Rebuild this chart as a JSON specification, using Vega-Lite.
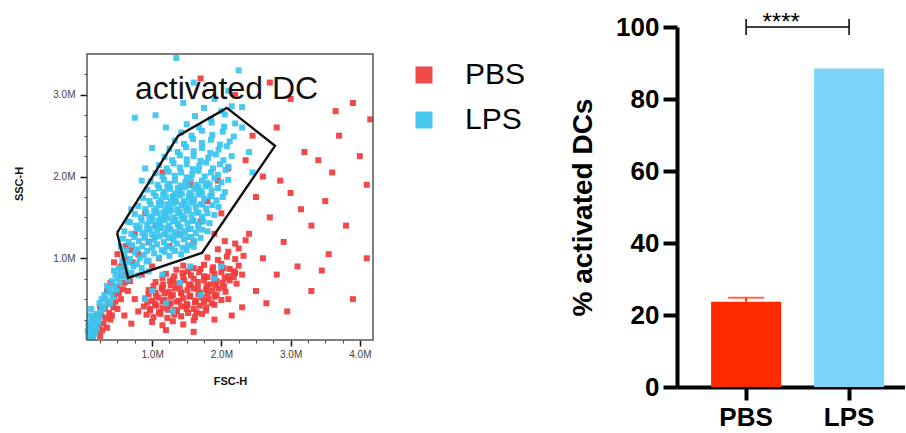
{
"$schema": "https://vega.github.io/schema/vega-lite/v6.json",
"background": "white",
"padding": {"left": 13, "top": 10, "right": 0, "bottom": 0},
"bounds": "flush",
"spacing": 304,
"resolve": {"scale": {"color": "independent"}, "legend": {"color": "independent"}},
"config": {"view": {"stroke": null}, "font": "Liberation Sans", "axis": {"grid": false}},
"datasets": {
"lps": [
{"x":0.08,"y":0.04},{"x":0.1,"y":0.09},{"x":0.12,"y":0.05},{"x":0.09,"y":0.15},{"x":0.14,"y":0.12},{"x":0.11,"y":0.22},{"x":0.16,"y":0.18},{"x":0.13,"y":0.28},{"x":0.18,"y":0.08},{"x":0.07,"y":0.11},{"x":0.15,"y":0.03},{"x":0.2,"y":0.14},{"x":0.1,"y":0.3},{"x":0.17,"y":0.25},{"x":0.22,"y":0.21},{"x":0.08,"y":0.19},{"x":0.19,"y":0.32},{"x":0.12,"y":0.38},{"x":0.24,"y":0.28},{"x":0.26,"y":0.35},{"x":0.28,"y":0.42},{"x":0.3,"y":0.38},{"x":0.33,"y":0.5},{"x":0.36,"y":0.47},{"x":0.31,"y":0.55},{"x":0.4,"y":0.58},{"x":0.38,"y":0.63},{"x":0.43,"y":0.52},{"x":0.45,"y":0.66},{"x":0.42,"y":0.72},{"x":0.48,"y":0.61},{"x":0.5,"y":0.75},{"x":0.47,"y":0.8},{"x":0.53,"y":0.7},{"x":0.55,"y":0.84},{"x":0.52,"y":0.88},{"x":0.58,"y":0.78},{"x":0.6,"y":0.92},{"x":0.35,"y":0.66},{"x":0.27,"y":0.5},{"x":0.62,"y":0.86},{"x":0.66,"y":0.95},{"x":0.7,"y":0.82},{"x":0.73,"y":0.9},{"x":0.24,"y":0.45},{"x":0.39,"y":0.44},{"x":0.57,"y":0.97},{"x":0.45,"y":0.85},{"x":0.65,"y":0.74},{"x":0.78,"y":0.93},{"x":0.85,"y":0.88},{"x":0.92,"y":0.96},{"x":0.8,"y":0.79},{"x":0.95,"y":0.84},
{"x":1.0,"y":0.6},{"x":1.2,"y":0.45},{"x":1.4,"y":0.7},{"x":1.7,"y":0.55},{"x":1.9,"y":0.75},{"x":1.15,"y":0.8},{"x":1.55,"y":0.9},{"x":2.0,"y":0.9},{"x":1.3,"y":0.35},{"x":0.9,"y":0.5},
{"x":0.6,"y":1.05},{"x":0.68,"y":0.99},{"x":0.75,"y":1.07},{"x":0.82,"y":1.0},{"x":0.88,"y":1.04},{"x":0.95,"y":0.97},{"x":1.03,"y":1.06},{"x":1.1,"y":1.01},{"x":1.18,"y":1.08},{"x":1.25,"y":1.03},{"x":1.33,"y":1.09},{"x":1.42,"y":1.05},{"x":1.5,"y":1.1},
{"x":0.55,"y":1.14},{"x":0.63,"y":1.1},{"x":0.71,"y":1.16},{"x":0.79,"y":1.11},{"x":0.86,"y":1.15},{"x":0.93,"y":1.09},{"x":1.0,"y":1.13},{"x":1.07,"y":1.17},{"x":1.14,"y":1.1},{"x":1.21,"y":1.15},{"x":1.29,"y":1.12},{"x":1.36,"y":1.18},{"x":1.44,"y":1.13},{"x":1.52,"y":1.16},{"x":1.6,"y":1.14},
{"x":0.58,"y":1.24},{"x":0.66,"y":1.2},{"x":0.74,"y":1.26},{"x":0.81,"y":1.21},{"x":0.89,"y":1.25},{"x":0.96,"y":1.19},{"x":1.03,"y":1.23},{"x":1.1,"y":1.27},{"x":1.17,"y":1.2},{"x":1.24,"y":1.25},{"x":1.31,"y":1.22},{"x":1.38,"y":1.28},{"x":1.46,"y":1.23},{"x":1.53,"y":1.26},{"x":1.61,"y":1.21},{"x":1.7,"y":1.25},
{"x":0.9,"y":1.28},{"x":1.04,"y":1.26},{"x":1.17,"y":1.29},{"x":1.3,"y":1.27},{"x":1.44,"y":1.3},{"x":1.57,"y":1.26},
{"x":0.6,"y":1.33},{"x":0.7,"y":1.3},{"x":0.78,"y":1.36},{"x":0.86,"y":1.31},{"x":0.93,"y":1.35},{"x":1.0,"y":1.29},{"x":1.07,"y":1.34},{"x":1.14,"y":1.37},{"x":1.2,"y":1.3},{"x":1.27,"y":1.35},{"x":1.34,"y":1.32},{"x":1.41,"y":1.38},{"x":1.48,"y":1.33},{"x":1.56,"y":1.36},{"x":1.63,"y":1.31},{"x":1.72,"y":1.35},{"x":1.8,"y":1.33},
{"x":0.82,"y":1.38},{"x":0.97,"y":1.36},{"x":1.1,"y":1.39},{"x":1.23,"y":1.37},{"x":1.38,"y":1.4},{"x":1.52,"y":1.36},{"x":1.67,"y":1.38},
{"x":0.68,"y":1.44},{"x":0.77,"y":1.4},{"x":0.85,"y":1.46},{"x":0.93,"y":1.41},{"x":1.0,"y":1.45},{"x":1.06,"y":1.39},{"x":1.12,"y":1.43},{"x":1.18,"y":1.47},{"x":1.24,"y":1.4},{"x":1.3,"y":1.45},{"x":1.37,"y":1.42},{"x":1.44,"y":1.48},{"x":1.51,"y":1.43},{"x":1.58,"y":1.46},{"x":1.66,"y":1.41},{"x":1.74,"y":1.45},{"x":1.83,"y":1.43},
{"x":0.96,"y":1.48},{"x":1.09,"y":1.46},{"x":1.22,"y":1.49},{"x":1.34,"y":1.47},{"x":1.47,"y":1.5},{"x":1.6,"y":1.46},{"x":1.72,"y":1.48},
{"x":0.75,"y":1.54},{"x":0.84,"y":1.5},{"x":0.92,"y":1.56},{"x":1.0,"y":1.51},{"x":1.07,"y":1.55},{"x":1.13,"y":1.49},{"x":1.19,"y":1.53},{"x":1.25,"y":1.57},{"x":1.31,"y":1.5},{"x":1.37,"y":1.55},{"x":1.43,"y":1.52},{"x":1.5,"y":1.58},{"x":1.57,"y":1.53},{"x":1.64,"y":1.56},{"x":1.72,"y":1.51},{"x":1.8,"y":1.55},{"x":1.9,"y":1.53},
{"x":1.03,"y":1.58},{"x":1.16,"y":1.56},{"x":1.28,"y":1.59},{"x":1.4,"y":1.57},{"x":1.53,"y":1.6},{"x":1.67,"y":1.56},
{"x":0.8,"y":1.64},{"x":0.9,"y":1.6},{"x":0.98,"y":1.66},{"x":1.06,"y":1.61},{"x":1.13,"y":1.65},{"x":1.19,"y":1.59},{"x":1.25,"y":1.63},{"x":1.31,"y":1.67},{"x":1.37,"y":1.6},{"x":1.43,"y":1.65},{"x":1.49,"y":1.62},{"x":1.56,"y":1.68},{"x":1.63,"y":1.63},{"x":1.7,"y":1.66},{"x":1.78,"y":1.61},{"x":1.87,"y":1.65},{"x":1.96,"y":1.63},
{"x":1.1,"y":1.68},{"x":1.22,"y":1.66},{"x":1.35,"y":1.69},{"x":1.47,"y":1.67},{"x":1.6,"y":1.7},{"x":1.73,"y":1.66},
{"x":0.87,"y":1.74},{"x":0.96,"y":1.7},{"x":1.05,"y":1.76},{"x":1.13,"y":1.71},{"x":1.2,"y":1.75},{"x":1.27,"y":1.69},{"x":1.33,"y":1.73},{"x":1.4,"y":1.77},{"x":1.46,"y":1.7},{"x":1.53,"y":1.75},{"x":1.6,"y":1.72},{"x":1.67,"y":1.78},{"x":1.75,"y":1.73},{"x":1.84,"y":1.76},{"x":1.93,"y":1.71},{"x":2.02,"y":1.75},
{"x":1.16,"y":1.78},{"x":1.3,"y":1.76},{"x":1.43,"y":1.79},{"x":1.57,"y":1.77},{"x":1.72,"y":1.8},{"x":1.86,"y":1.76},
{"x":0.93,"y":1.84},{"x":1.02,"y":1.8},{"x":1.1,"y":1.86},{"x":1.18,"y":1.81},{"x":1.26,"y":1.85},{"x":1.33,"y":1.79},{"x":1.4,"y":1.83},{"x":1.47,"y":1.87},{"x":1.54,"y":1.8},{"x":1.61,"y":1.85},{"x":1.69,"y":1.82},{"x":1.77,"y":1.88},{"x":1.86,"y":1.83},{"x":1.95,"y":1.86},{"x":2.05,"y":1.81},
{"x":1.22,"y":1.88},{"x":1.37,"y":1.86},{"x":1.52,"y":1.89},{"x":1.67,"y":1.87},{"x":1.83,"y":1.9},
{"x":0.98,"y":1.94},{"x":1.08,"y":1.9},{"x":1.17,"y":1.96},{"x":1.25,"y":1.91},{"x":1.33,"y":1.95},{"x":1.41,"y":1.89},{"x":1.48,"y":1.93},{"x":1.56,"y":1.97},{"x":1.64,"y":1.9},{"x":1.72,"y":1.95},{"x":1.8,"y":1.92},{"x":1.9,"y":1.98},{"x":2.0,"y":1.93},{"x":2.1,"y":1.96},
{"x":1.05,"y":2.04},{"x":1.15,"y":2.0},{"x":1.24,"y":2.06},{"x":1.33,"y":2.01},{"x":1.42,"y":2.05},{"x":1.5,"y":1.99},{"x":1.58,"y":2.03},{"x":1.67,"y":2.07},{"x":1.76,"y":2.0},{"x":1.85,"y":2.05},{"x":1.95,"y":2.02},{"x":2.06,"y":2.08},
{"x":1.1,"y":2.14},{"x":1.21,"y":2.1},{"x":1.31,"y":2.16},{"x":1.4,"y":2.11},{"x":1.5,"y":2.15},{"x":1.59,"y":2.09},{"x":1.68,"y":2.13},{"x":1.78,"y":2.17},{"x":1.88,"y":2.1},{"x":1.98,"y":2.15},{"x":2.1,"y":2.12},
{"x":1.18,"y":2.24},{"x":1.29,"y":2.2},{"x":1.4,"y":2.26},{"x":1.5,"y":2.21},{"x":1.6,"y":2.25},{"x":1.7,"y":2.19},{"x":1.81,"y":2.23},{"x":1.92,"y":2.27},{"x":2.03,"y":2.2},{"x":2.15,"y":2.25},
{"x":1.25,"y":2.34},{"x":1.37,"y":2.3},{"x":1.49,"y":2.36},{"x":1.6,"y":2.31},{"x":1.72,"y":2.35},{"x":1.84,"y":2.29},{"x":1.96,"y":2.33},{"x":2.08,"y":2.37},
{"x":1.33,"y":2.44},{"x":1.46,"y":2.4},{"x":1.59,"y":2.46},{"x":1.72,"y":2.41},{"x":1.85,"y":2.45},{"x":1.98,"y":2.39},{"x":2.12,"y":2.43},
{"x":1.42,"y":2.54},{"x":1.57,"y":2.5},{"x":1.72,"y":2.56},{"x":1.87,"y":2.51},{"x":2.02,"y":2.55},{"x":2.18,"y":2.49},
{"x":1.5,"y":2.64},{"x":1.68,"y":2.6},{"x":1.86,"y":2.66},{"x":2.04,"y":2.61},{"x":2.2,"y":2.65},
{"x":1.62,"y":2.74},{"x":1.85,"y":2.7},{"x":2.05,"y":2.76},
{"x":1.75,"y":2.84},{"x":2.0,"y":2.8},{"x":2.15,"y":2.86},
{"x":1.9,"y":2.95},{"x":2.1,"y":3.05},{"x":1.6,"y":3.15},{"x":2.25,"y":3.3},{"x":1.45,"y":2.9},{"x":2.3,"y":2.85},{"x":1.2,"y":2.6},{"x":1.0,"y":2.35},{"x":0.9,"y":2.1},{"x":2.3,"y":2.6},{"x":2.4,"y":2.3},{"x":1.35,"y":3.45},{"x":1.05,"y":2.75},{"x":0.85,"y":1.95},{"x":2.45,"y":2.05},{"x":0.7,"y":1.6},{"x":0.65,"y":1.45},{"x":0.75,"y":2.72}
],
"pbs": [
{"x":0.15,"y":0.06},{"x":0.2,"y":0.1},{"x":0.25,"y":0.05},{"x":0.22,"y":0.17},{"x":0.28,"y":0.12},{"x":0.3,"y":0.2},{"x":0.18,"y":0.24},{"x":0.33,"y":0.27},{"x":0.27,"y":0.3},{"x":0.35,"y":0.15},{"x":0.38,"y":0.33},{"x":0.4,"y":0.25},{"x":0.32,"y":0.38},{"x":0.44,"y":0.4},{"x":0.42,"y":0.3},{"x":0.37,"y":0.45},{"x":0.47,"y":0.47},{"x":0.5,"y":0.38},{"x":0.45,"y":0.55},{"x":0.52,"y":0.57},{"x":0.55,"y":0.5},{"x":0.5,"y":0.65},{"x":0.58,"y":0.62},{"x":0.6,"y":0.7},{"x":0.56,"y":0.78},{"x":0.63,"y":0.8},{"x":0.65,"y":0.6},{"x":0.68,"y":0.72},{"x":0.55,"y":0.9},{"x":0.6,"y":1.0},{"x":0.5,"y":1.05},{"x":0.7,"y":1.1},{"x":0.72,"y":0.95},{"x":0.62,"y":1.15},{"x":0.45,"y":0.95},{"x":0.4,"y":0.7},{"x":0.35,"y":0.6},{"x":0.25,"y":0.4},{"x":0.12,"y":0.14},{"x":0.2,"y":0.3},
{"x":0.8,"y":1.05},{"x":0.95,"y":1.2},{"x":1.1,"y":1.0},{"x":0.75,"y":1.3},{"x":1.25,"y":1.15},{"x":1.05,"y":1.4},{"x":0.9,"y":1.55},{"x":1.4,"y":1.3},{"x":1.6,"y":1.2},{"x":1.7,"y":1.45},{"x":1.3,"y":1.75},{"x":1.55,"y":1.9},{"x":1.8,"y":1.7},{"x":1.95,"y":1.95},{"x":2.1,"y":2.1},{"x":1.15,"y":2.05},{"x":0.85,"y":0.8},{"x":1.0,"y":0.9},{"x":1.9,"y":1.3},{"x":2.0,"y":1.55},
{"x":1.0,"y":0.22},{"x":1.15,"y":0.18},{"x":1.3,"y":0.23},{"x":1.45,"y":0.19},{"x":1.6,"y":0.24},
{"x":0.92,"y":0.31},{"x":1.02,"y":0.28},{"x":1.12,"y":0.32},{"x":1.22,"y":0.27},{"x":1.32,"y":0.31},{"x":1.42,"y":0.29},{"x":1.52,"y":0.33},{"x":1.62,"y":0.28},{"x":1.72,"y":0.32},
{"x":0.97,"y":0.36},{"x":1.1,"y":0.34},{"x":1.23,"y":0.37},{"x":1.36,"y":0.35},{"x":1.5,"y":0.38},{"x":1.64,"y":0.34},{"x":1.78,"y":0.36},
{"x":0.88,"y":0.41},{"x":0.97,"y":0.38},{"x":1.06,"y":0.42},{"x":1.15,"y":0.39},{"x":1.24,"y":0.43},{"x":1.33,"y":0.37},{"x":1.42,"y":0.41},{"x":1.51,"y":0.43},{"x":1.6,"y":0.38},{"x":1.69,"y":0.42},{"x":1.78,"y":0.4},{"x":1.9,"y":0.43},
{"x":0.93,"y":0.46},{"x":1.04,"y":0.44},{"x":1.15,"y":0.47},{"x":1.27,"y":0.45},{"x":1.39,"y":0.48},{"x":1.5,"y":0.44},{"x":1.62,"y":0.46},{"x":1.75,"y":0.47},{"x":1.86,"y":0.45},
{"x":0.9,"y":0.51},{"x":1.0,"y":0.48},{"x":1.09,"y":0.52},{"x":1.18,"y":0.49},{"x":1.27,"y":0.53},{"x":1.36,"y":0.47},{"x":1.45,"y":0.51},{"x":1.54,"y":0.53},{"x":1.63,"y":0.48},{"x":1.72,"y":0.52},{"x":1.81,"y":0.5},{"x":1.9,"y":0.53},{"x":2.0,"y":0.49},
{"x":0.95,"y":0.56},{"x":1.06,"y":0.54},{"x":1.18,"y":0.57},{"x":1.3,"y":0.55},{"x":1.42,"y":0.58},{"x":1.55,"y":0.54},{"x":1.67,"y":0.56},{"x":1.8,"y":0.57},{"x":1.93,"y":0.55},
{"x":0.95,"y":0.61},{"x":1.05,"y":0.58},{"x":1.15,"y":0.62},{"x":1.24,"y":0.59},{"x":1.33,"y":0.63},{"x":1.42,"y":0.57},{"x":1.51,"y":0.61},{"x":1.6,"y":0.63},{"x":1.69,"y":0.58},{"x":1.78,"y":0.62},{"x":1.87,"y":0.6},{"x":1.96,"y":0.63},{"x":2.06,"y":0.59},
{"x":1.02,"y":0.66},{"x":1.14,"y":0.64},{"x":1.27,"y":0.67},{"x":1.4,"y":0.65},{"x":1.53,"y":0.68},{"x":1.66,"y":0.64},{"x":1.79,"y":0.66},{"x":1.92,"y":0.67},{"x":2.04,"y":0.65},
{"x":1.05,"y":0.71},{"x":1.16,"y":0.68},{"x":1.26,"y":0.72},{"x":1.36,"y":0.69},{"x":1.46,"y":0.73},{"x":1.56,"y":0.67},{"x":1.66,"y":0.71},{"x":1.75,"y":0.73},{"x":1.84,"y":0.68},{"x":1.93,"y":0.72},{"x":2.02,"y":0.7},{"x":2.12,"y":0.73},{"x":2.22,"y":0.69},
{"x":1.15,"y":0.76},{"x":1.3,"y":0.74},{"x":1.45,"y":0.77},{"x":1.6,"y":0.75},{"x":1.75,"y":0.78},{"x":1.9,"y":0.74},{"x":2.05,"y":0.76},{"x":2.18,"y":0.77},
{"x":1.2,"y":0.81},{"x":1.32,"y":0.78},{"x":1.44,"y":0.82},{"x":1.56,"y":0.79},{"x":1.68,"y":0.83},{"x":1.8,"y":0.77},{"x":1.9,"y":0.81},{"x":2.0,"y":0.83},{"x":2.1,"y":0.78},{"x":2.2,"y":0.82},{"x":2.3,"y":0.8},
{"x":1.35,"y":0.86},{"x":1.52,"y":0.84},{"x":1.7,"y":0.87},{"x":1.87,"y":0.85},{"x":2.03,"y":0.88},{"x":2.18,"y":0.84},
{"x":1.45,"y":0.91},{"x":1.6,"y":0.88},{"x":1.75,"y":0.92},{"x":1.88,"y":0.89},{"x":2.0,"y":0.93},{"x":2.12,"y":0.87},{"x":2.25,"y":0.91},
{"x":1.8,"y":1.01},{"x":1.95,"y":0.98},{"x":2.08,"y":1.02},{"x":2.2,"y":0.99},{"x":2.32,"y":1.03},
{"x":1.95,"y":1.11},{"x":2.1,"y":1.08},{"x":2.25,"y":1.12},
{"x":2.05,"y":1.21},{"x":2.2,"y":1.18},{"x":2.35,"y":1.22},
{"x":2.4,"y":1.3},{"x":2.6,"y":1.0},{"x":2.8,"y":0.8},{"x":2.5,"y":0.6},{"x":2.7,"y":1.5},{"x":2.9,"y":1.2},{"x":3.1,"y":0.9},{"x":3.3,"y":1.4},{"x":3.0,"y":1.8},{"x":2.6,"y":2.0},{"x":3.5,"y":1.7},{"x":3.8,"y":1.4},{"x":3.4,"y":2.2},{"x":3.7,"y":2.5},{"x":3.9,"y":2.9},{"x":2.45,"y":2.5},{"x":2.8,"y":2.6},{"x":3.2,"y":2.3},{"x":3.6,"y":2.05},{"x":4.1,"y":1.9},{"x":4.15,"y":2.7},{"x":3.9,"y":0.5},{"x":3.3,"y":0.6},{"x":2.95,"y":0.35},{"x":2.3,"y":0.4},{"x":2.5,"y":1.75},{"x":3.0,"y":2.95},{"x":2.7,"y":3.15},{"x":4.0,"y":2.25},{"x":3.55,"y":1.05},{"x":2.2,"y":3.0},{"x":1.7,"y":3.2},{"x":3.15,"y":1.6},{"x":2.85,"y":1.95},{"x":3.65,"y":2.8},{"x":2.35,"y":2.2},{"x":4.1,"y":1.0},{"x":3.45,"y":0.85},{"x":2.65,"y":0.45},{"x":2.15,"y":0.3},{"x":0.7,"y":0.2},{"x":0.8,"y":0.35},{"x":0.6,"y":0.3},{"x":0.75,"y":0.5},{"x":1.2,"y":0.12},{"x":1.6,"y":0.1},{"x":1.9,"y":0.25},{"x":2.1,"y":0.5}
],
"gate": [
{"i":0,"x":0.495,"y":1.311},{"i":1,"x":0.654,"y":0.76},{"i":2,"x":1.72,"y":1.066},{"i":3,"x":2.775,"y":2.376},{"i":4,"x":2.08,"y":2.84},{"i":5,"x":1.375,"y":2.498},{"i":6,"x":0.495,"y":1.311}
],
"frame": [{"x0":0.06,"x1":4.19,"y0":0,"y1":3.5}],
"gatelabel": [{"x":2.075,"y":2.95,"label":"activated DC"}],
"bars": [
{"group":"PBS","value":23.7,"upper":24.8},{"group":"LPS","value":88.5,"upper":null}
],
"bracket": [{"a":"PBS","b":"LPS","y":100,"ty":99.3,"label":"****"}],
"ends": [{"g":"PBS","lo":97.8,"hi":102.2},{"g":"LPS","lo":97.8,"hi":102.2}]
},
"hconcat": [
{
"width": 286, "height": 313,
"resolve": {"axis": {"x": "independent", "y": "independent"}},
"layer": [
{"data": {"name": "pbs"},
 "mark": {"type": "square", "size": 36, "opacity": 0.92},
 "encoding": {
  "x": {"field": "x", "type": "quantitative", "scale": {"domain": [0.06, 4.19], "nice": false, "zero": false},
   "axis": {"orient": "bottom", "values": [1, 2, 3, 4], "labelExpr": "format(datum.value,'.1f') + 'M'", "domain": false, "tickSize": 6, "tickWidth": 1.5, "tickColor": "#111", "labelFontSize": 10, "labelColor": "#444", "labelPadding": 3, "title": "FSC-H", "titleFontSize": 11, "titleFontWeight": "bold", "titleColor": "#111", "titlePadding": 16}},
  "y": {"field": "y", "type": "quantitative", "scale": {"domain": [0, 3.83], "nice": false, "zero": false},
   "axis": {"orient": "left", "values": [1, 2, 3], "labelExpr": "format(datum.value,'.1f') + 'M'", "domain": false, "tickSize": 7, "tickWidth": 1.5, "tickColor": "#111", "labelFontSize": 10, "labelColor": "#444", "labelPadding": 5, "title": "SSC-H", "titleFontSize": 11, "titleFontWeight": "bold", "titleColor": "#111", "titlePadding": 28}},
  "color": {"datum": "PBS", "type": "nominal", "scale": {"domain": ["PBS", "LPS"], "range": ["#ef3b3b", "#3bc4ef"]},
   "legend": {"orient": "none", "legendX": 322, "legendY": 33, "title": null, "symbolType": "square", "symbolSize": 289, "symbolStrokeWidth": 0, "symbolOpacity": 1, "labelFontSize": 30, "labelColor": "#000", "labelOffset": 26, "rowPadding": 15, "padding": 0}}
 }},
{"data": {"name": "lps"},
 "mark": {"type": "square", "size": 36, "opacity": 0.92},
 "encoding": {
  "x": {"field": "x", "type": "quantitative",
   "axis": {"orient": "bottom", "values": [0.25, 0.5, 0.75, 1.25, 1.5, 1.75, 2.25, 2.5, 2.75, 3.25, 3.5, 3.75], "labels": false, "domain": false, "tickSize": 3, "tickWidth": 1, "tickColor": "#444", "title": null}},
  "y": {"field": "y", "type": "quantitative",
   "axis": {"orient": "left", "values": [0.25, 0.5, 0.75, 1.25, 1.5, 1.75, 2.25, 2.5, 2.75, 3.25], "labels": false, "domain": false, "tickSize": 3, "tickWidth": 1, "tickColor": "#444", "title": null}},
  "color": {"datum": "LPS", "type": "nominal"}
 }},
{"data": {"name": "frame"},
 "mark": {"type": "rect", "filled": false, "stroke": "#555", "strokeWidth": 1.5},
 "encoding": {
  "x": {"field": "x0", "type": "quantitative", "axis": null},
  "x2": {"field": "x1"},
  "y": {"field": "y0", "type": "quantitative", "axis": null},
  "y2": {"field": "y1"}
 }},
{"data": {"name": "gate"},
 "mark": {"type": "line", "color": "#111", "strokeWidth": 2.4, "strokeJoin": "miter"},
 "encoding": {
  "x": {"field": "x", "type": "quantitative", "axis": null},
  "y": {"field": "y", "type": "quantitative", "axis": null},
  "order": {"field": "i", "type": "quantitative"}
 }},
{"data": {"name": "gatelabel"},
 "mark": {"type": "text", "fontSize": 32, "align": "center", "baseline": "alphabetic", "color": "#111"},
 "encoding": {
  "x": {"field": "x", "type": "quantitative", "axis": null},
  "y": {"field": "y", "type": "quantitative", "axis": null},
  "text": {"field": "label"}
 }}
]
},
{
"width": 228, "height": 360,
"layer": [
{"data": {"name": "bars"},
 "mark": {"type": "bar"},
 "encoding": {
  "x": {"field": "group", "type": "nominal", "sort": null, "scale": {"domain": ["PBS", "LPS"], "paddingInner": 0.32, "paddingOuter": 0.267, "align": 0.62},
   "axis": {"title": null, "labelAngle": 0, "domainColor": "#000", "domainWidth": 4, "tickColor": "#000", "tickWidth": 4, "tickSize": 13, "labelFontSize": 26, "labelFontWeight": "bold", "labelColor": "#000", "labelPadding": 4}},
  "y": {"field": "value", "type": "quantitative", "scale": {"domain": [0, 100], "nice": false},
   "axis": {"values": [0, 20, 40, 60, 80, 100], "domainColor": "#000", "domainWidth": 4, "tickColor": "#000", "tickWidth": 4, "tickSize": 14, "labelFontSize": 26, "labelFontWeight": "bold", "labelColor": "#000", "labelPadding": 4, "title": "% activated DCs", "titleFontSize": 28, "titleFontWeight": "bold", "titleColor": "#000", "titlePadding": 18}},
  "color": {"field": "group", "type": "nominal", "scale": {"domain": ["PBS", "LPS"], "range": ["#ff2a00", "#7ad4fa"]}, "legend": null}
 }},
{"data": {"name": "bars"},
 "mark": {"type": "rule", "color": "#ff2a00", "strokeWidth": 2},
 "encoding": {
  "x": {"field": "group", "type": "nominal", "sort": null},
  "y": {"field": "value", "type": "quantitative"},
  "y2": {"field": "upper"}
 }},
{"data": {"name": "bars"},
 "mark": {"type": "tick", "color": "#ff2a00", "thickness": 2, "size": 36},
 "encoding": {
  "x": {"field": "group", "type": "nominal", "sort": null},
  "y": {"field": "upper", "type": "quantitative"}
 }},
{"data": {"name": "bracket"},
 "mark": {"type": "rule", "color": "#000", "strokeWidth": 1.5},
 "encoding": {
  "x": {"field": "a", "type": "nominal", "sort": null},
  "x2": {"field": "b"},
  "y": {"field": "y", "type": "quantitative"}
 }},
{"data": {"name": "ends"},
 "mark": {"type": "rule", "color": "#000", "strokeWidth": 1.5},
 "encoding": {
  "x": {"field": "g", "type": "nominal", "sort": null},
  "y": {"field": "lo", "type": "quantitative"},
  "y2": {"field": "hi"}
 }},
{"data": {"name": "bracket"},
 "mark": {"type": "text", "fontSize": 24, "align": "center", "baseline": "alphabetic", "color": "#000"},
 "encoding": {
  "x": {"field": "a", "type": "nominal", "sort": null, "bandPosition": 1},
  "y": {"field": "ty", "type": "quantitative"},
  "text": {"field": "label"}
 }}
]
}
]
}
